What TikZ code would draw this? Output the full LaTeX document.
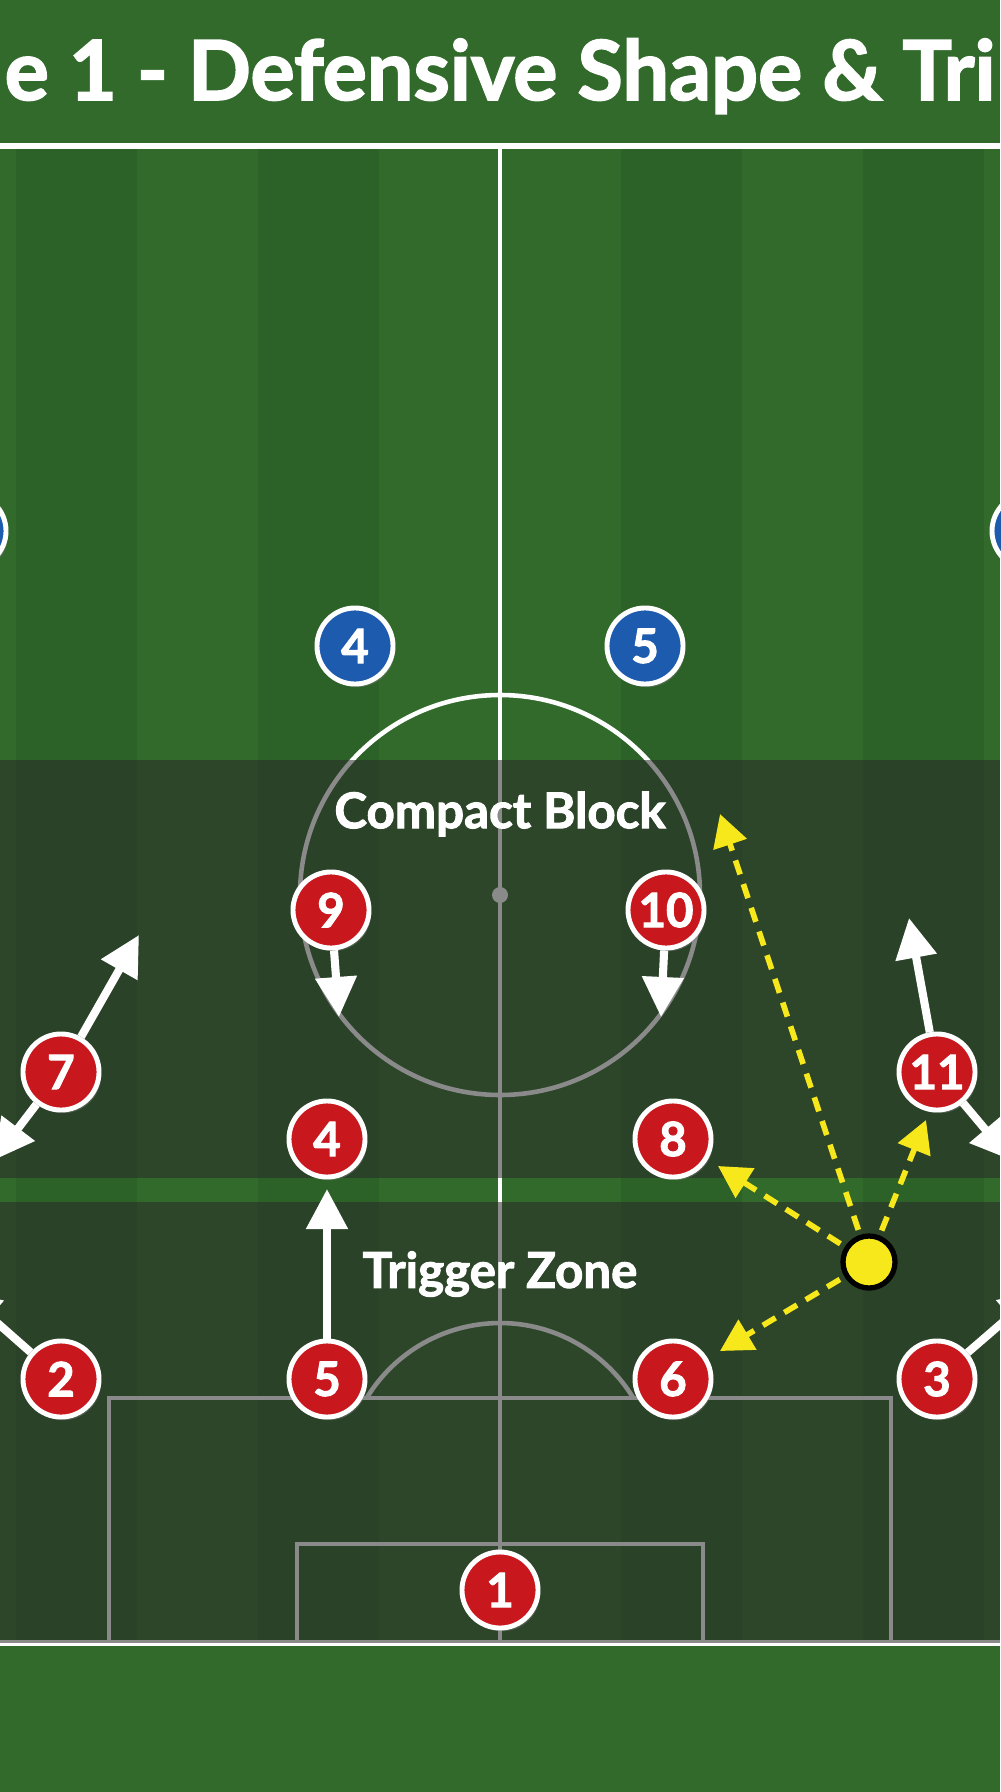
\documentclass[tikz,border=0pt]{standalone}
\usepackage{fontspec}
\setmainfont{Lato}[BoldFeatures={FakeBold=2}]
\usepackage{graphicx}
\usetikzlibrary{arrows.meta,shadows}

\definecolor{grass}{HTML}{316A2B}
\definecolor{grassdark}{HTML}{2C6127}
\definecolor{shirtred}{HTML}{C9171E}
\definecolor{shirtblue}{HTML}{1D5BAE}
\definecolor{passyellow}{HTML}{F7E81C}
\definecolor{zonegrey}{HTML}{2A2A2A}

\tikzset{
  pitchline/.style={white, line width=1.3pt},
  zone/.style={fill=zonegrey, fill opacity=0.55},
  player/.style={circle, draw=white, line width=1.4pt, minimum size=0.76cm, inner sep=0pt,
    text=white, font=\bfseries\fontsize{13.5}{14}\selectfont,
    drop shadow={shadow xshift=0.6pt, shadow yshift=-0.9pt, opacity=0.45}},
  red player/.style={player, fill=shirtred},
  blue player/.style={player, fill=shirtblue},
  ball/.style={circle, fill=passyellow, draw=black, line width=1.5pt, minimum size=0.52cm, inner sep=0pt},
  run/.style={white, line width=2.3pt, -{Triangle[length=0.4cm, width=0.4cm]}},
  pass/.style={passyellow, line width=1.6pt, dash pattern=on 4.2pt off 2.9pt,
    -{Triangle[length=0.32cm, width=0.34cm]}, shorten <=1.5pt},
  zonelabel/.style={text=white, font=\bfseries\fontsize{14}{16}\selectfont}
}

\begin{document}
\begin{tikzpicture}[x=0.01cm, y=-0.01cm]
  \useasboundingbox (0,0) rectangle (1000,1792);
  \fill[grass] (0,0) rectangle (1000,1792);
  \foreach \s in {16,258,621,863}
    \fill[grassdark] (\s,146) rectangle ++(121,1497);

  % pitch markings
  \draw[pitchline, line width=1.6pt] (0,146) -- (1000,146);
  \draw[pitchline, line width=1.6pt] (0,1643) -- (1000,1643);
  \draw[pitchline] (500,146) -- (500,1643);
  \draw[pitchline] (500,895) circle[radius=200];
  \fill[white] (500,895) circle[radius=8];
  \draw[pitchline] (109,1643) -- (109,1398) -- (891,1398) -- (891,1643);
  \draw[pitchline] (297,1643) -- (297,1544) -- (703,1544) -- (703,1643);
  \draw[pitchline] (366.7,1398) arc[start angle=211.3, end angle=328.7, radius=156];

  % zones
  \fill[zone] (0,760) rectangle (1000,1178);
  \fill[zone] (0,1202) rectangle (1000,1643);
  \node[zonelabel] (compact) at (500,814) {Compact Block};
  \node[zonelabel] (trigger) at (500,1274) {Trigger Zone};

  \node[anchor=base] (title) at (500,100)
    {\resizebox{9.9cm}{!}{\color{white}\bfseries e 1 - Defensive Shape \& Tri}};

  % opponents
  \node[blue player] (b4) at (355,646) {4};
  \node[blue player] (b5) at (645,646) {5};
  \node[blue player] (bl) at (-32,531) {};
  \node[blue player] (br) at (1030,531) {};

  % our team
  \node[red player] (r9) at (331,910) {9};
  \node[red player] (r10) at (666,910) {10};
  \node[red player] (r7) at (61,1072) {7};
  \node[red player] (r11) at (937,1072) {11};
  \node[red player] (r4) at (327,1139) {4};
  \node[red player] (r8) at (673,1139) {8};
  \node[red player] (r2) at (61,1379) {2};
  \node[red player] (r5) at (327,1379) {5};
  \node[red player] (r6) at (673,1379) {6};
  \node[red player] (r3) at (937,1379) {3};
  \node[red player] (r1) at (500,1590) {1};
  \node[ball] (ball) at (869,1262) {};

  % runs
  \coordinate (t9) at (339,1017);
  \coordinate (t10) at (661,1017);
  \coordinate (t7a) at (139,935);
  \coordinate (t7b) at (-6,1160);
  \coordinate (t2) at (-40,1290);
  \coordinate (t3) at (1040,1290);
  \coordinate (t11a) at (909,918);
  \coordinate (t11b) at (1011,1160);
  \coordinate (t5) at (327,1189);
  \draw[run] (r9) -- (t9);
  \draw[run] (r10) -- (t10);
  \draw[run] (r7) -- (t7a);
  \draw[run] (r7) -- (t7b);
  \draw[run] (r2) -- (t2);
  \draw[run] (r3) -- (t3);
  \draw[run] (r11) -- (t11a);
  \draw[run] (r11) -- (t11b);
  \draw[run] (r5) -- (t5);

  % passing options
  \coordinate (p1) at (720,814);
  \coordinate (p2) at (926,1120);
  \coordinate (p3) at (718,1166);
  \coordinate (p4) at (720,1351);
  \foreach \p in {p1,p2,p3,p4}
    \draw[pass] (ball) -- (\p);
\end{tikzpicture}
\end{document}
